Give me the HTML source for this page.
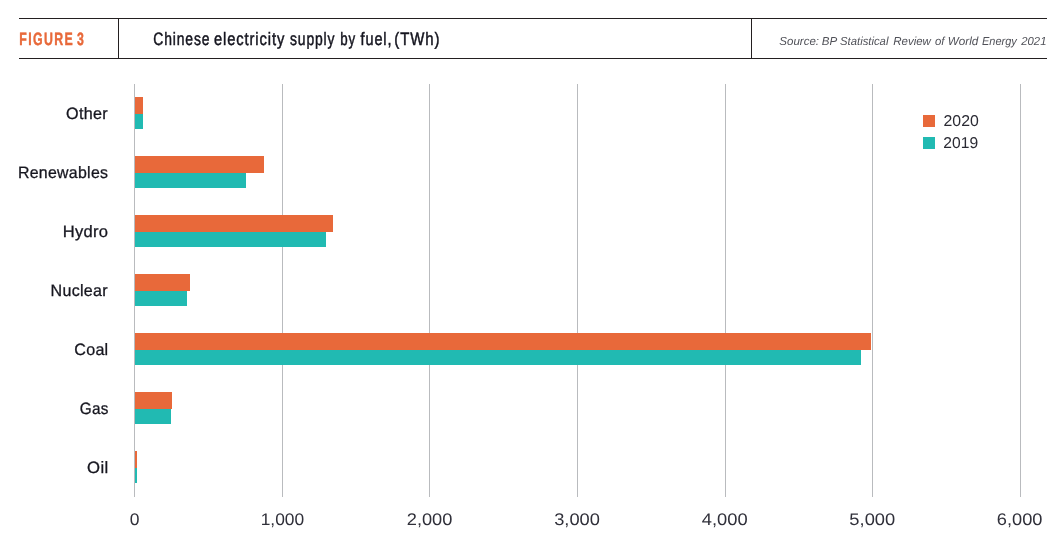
<!DOCTYPE html>
<html lang="en"><head><meta charset="utf-8"><title>Figure 3 - Chinese electricity supply by fuel</title>
<style>
html,body{margin:0;padding:0;background:#fff;}
body{width:1060px;height:543px;overflow:hidden;font-family:"Liberation Sans",sans-serif;}
svg{display:block}
text{font-family:"Liberation Sans",sans-serif;}
</style></head><body>
<svg width="1060" height="543" viewBox="0 0 1060 543">
<rect width="1060" height="543" fill="#fff"/>
<g shape-rendering="crispEdges" fill="#231f20">
<rect x="19" y="18" width="1028" height="1"/>
<rect x="19" y="58" width="1028" height="1"/>
<rect x="118" y="18" width="1" height="41"/>
<rect x="751" y="18" width="1" height="41"/>
</g>
<text text-rendering="geometricPrecision" x="19.24" y="44.85" font-size="17.8" font-weight="bold" letter-spacing="2" word-spacing="-3" fill="#e8693a" stroke="#e8693a" stroke-width="0.45" textLength="65.91" lengthAdjust="spacingAndGlyphs">FIGURE 3</text>
<text text-rendering="geometricPrecision" y="44.65" font-size="18.0" letter-spacing="1.1" fill="#15151f" stroke="#15151f" stroke-width="0.5"><tspan x="153.27" textLength="57.05" lengthAdjust="spacingAndGlyphs">Chinese</tspan> <tspan x="214.00" textLength="71.18" lengthAdjust="spacingAndGlyphs">electricity</tspan> <tspan x="290.01" textLength="45.28" lengthAdjust="spacingAndGlyphs">supply</tspan> <tspan x="340.18" textLength="15.71" lengthAdjust="spacingAndGlyphs">by</tspan> <tspan x="360.56" textLength="31.76" lengthAdjust="spacingAndGlyphs">fuel,</tspan> <tspan x="394.33" textLength="46.19" lengthAdjust="spacingAndGlyphs">(TWh)</tspan></text>
<text text-rendering="geometricPrecision" y="44.8" font-size="11.6" font-style="italic" fill="#505158"><tspan x="779.37" textLength="39.70" lengthAdjust="spacingAndGlyphs">Source:</tspan> <tspan x="821.70" textLength="15.05" lengthAdjust="spacingAndGlyphs">BP</tspan> <tspan x="840.04" textLength="48.38" lengthAdjust="spacingAndGlyphs">Statistical</tspan> <tspan x="893.23" textLength="37.69" lengthAdjust="spacingAndGlyphs">Review</tspan> <tspan x="934.93" textLength="9.50" lengthAdjust="spacingAndGlyphs">of</tspan> <tspan x="947.84" textLength="30.55" lengthAdjust="spacingAndGlyphs">World</tspan> <tspan x="981.99" textLength="34.86" lengthAdjust="spacingAndGlyphs">Energy</tspan> <tspan x="1021.30" textLength="25.13" lengthAdjust="spacingAndGlyphs">2021</tspan></text>
<g shape-rendering="crispEdges" fill="#b9bbbe">
<rect x="134" y="84" width="1" height="413"/>
<rect x="282" y="84" width="1" height="413"/>
<rect x="429" y="84" width="1" height="413"/>
<rect x="577" y="84" width="1" height="413"/>
<rect x="725" y="84" width="1" height="413"/>
<rect x="872" y="84" width="1" height="413"/>
<rect x="1020" y="84" width="1" height="413"/>
</g>
<g shape-rendering="crispEdges">
<rect x="135" y="114" width="8" height="15" fill="#21bab2"/>
<rect x="135" y="97" width="8" height="17" fill="#e8693a"/>
<rect x="135" y="173" width="111" height="15" fill="#21bab2"/>
<rect x="135" y="156" width="129" height="17" fill="#e8693a"/>
<rect x="135" y="232" width="191" height="15" fill="#21bab2"/>
<rect x="135" y="215" width="198" height="17" fill="#e8693a"/>
<rect x="135" y="291" width="52" height="15" fill="#21bab2"/>
<rect x="135" y="274" width="55" height="17" fill="#e8693a"/>
<rect x="135" y="350" width="726" height="15" fill="#21bab2"/>
<rect x="135" y="333" width="736" height="17" fill="#e8693a"/>
<rect x="135" y="409" width="36" height="15" fill="#21bab2"/>
<rect x="135" y="392" width="37" height="17" fill="#e8693a"/>
<rect x="135" y="468" width="2" height="15" fill="#21bab2"/>
<rect x="135" y="451" width="2" height="17" fill="#e8693a"/>
</g>
<text text-rendering="geometricPrecision" x="66.12" y="118.5" font-size="16.5" letter-spacing="0.3" fill="#16161f" stroke="#16161f" stroke-width="0.3" textLength="41.88" lengthAdjust="spacingAndGlyphs">Other</text>
<text text-rendering="geometricPrecision" x="17.92" y="177.5" font-size="16.5" letter-spacing="0.3" fill="#16161f" stroke="#16161f" stroke-width="0.3" textLength="90.35" lengthAdjust="spacingAndGlyphs">Renewables</text>
<text text-rendering="geometricPrecision" x="62.75" y="236.5" font-size="16.5" letter-spacing="0.3" fill="#16161f" stroke="#16161f" stroke-width="0.3" textLength="45.57" lengthAdjust="spacingAndGlyphs">Hydro</text>
<text text-rendering="geometricPrecision" x="50.59" y="295.5" font-size="16.5" letter-spacing="0.3" fill="#16161f" stroke="#16161f" stroke-width="0.3" textLength="57.31" lengthAdjust="spacingAndGlyphs">Nuclear</text>
<text text-rendering="geometricPrecision" x="74.29" y="354.5" font-size="16.5" letter-spacing="0.3" fill="#16161f" stroke="#16161f" stroke-width="0.3" textLength="34.20" lengthAdjust="spacingAndGlyphs">Coal</text>
<text text-rendering="geometricPrecision" x="79.76" y="413.5" font-size="16.5" letter-spacing="0.3" fill="#16161f" stroke="#16161f" stroke-width="0.3" textLength="28.88" lengthAdjust="spacingAndGlyphs">Gas</text>
<text text-rendering="geometricPrecision" x="87.12" y="472.5" font-size="16.5" letter-spacing="0.3" fill="#16161f" stroke="#16161f" stroke-width="0.3" textLength="21.31" lengthAdjust="spacingAndGlyphs">Oil</text>
<text text-rendering="geometricPrecision" x="129.73" y="524.9" font-size="16.9" fill="#30303a" textLength="9.75" lengthAdjust="spacingAndGlyphs">0</text>
<text text-rendering="geometricPrecision" x="260.66" y="524.9" font-size="16.9" fill="#30303a" textLength="43.52" lengthAdjust="spacingAndGlyphs">1,000</text>
<text text-rendering="geometricPrecision" x="406.76" y="524.9" font-size="16.9" fill="#30303a" textLength="45.63" lengthAdjust="spacingAndGlyphs">2,000</text>
<text text-rendering="geometricPrecision" x="554.19" y="524.9" font-size="16.9" fill="#30303a" textLength="45.74" lengthAdjust="spacingAndGlyphs">3,000</text>
<text text-rendering="geometricPrecision" x="701.82" y="524.9" font-size="16.9" fill="#30303a" textLength="45.86" lengthAdjust="spacingAndGlyphs">4,000</text>
<text text-rendering="geometricPrecision" x="849.39" y="524.9" font-size="16.9" fill="#30303a" textLength="45.82" lengthAdjust="spacingAndGlyphs">5,000</text>
<text text-rendering="geometricPrecision" x="996.82" y="524.9" font-size="16.9" fill="#30303a" textLength="45.64" lengthAdjust="spacingAndGlyphs">6,000</text>
<rect x="923" y="115" width="12" height="12" fill="#e8693a" shape-rendering="crispEdges"/>
<rect x="923" y="137" width="12" height="12" fill="#21bab2" shape-rendering="crispEdges"/>
<text text-rendering="geometricPrecision" x="943.55" y="126" font-size="15.7" fill="#2a2a33" textLength="35.26" lengthAdjust="spacingAndGlyphs">2020</text>
<text text-rendering="geometricPrecision" x="943.36" y="148" font-size="15.7" fill="#2a2a33" textLength="34.82" lengthAdjust="spacingAndGlyphs">2019</text>
</svg>
</body></html>
